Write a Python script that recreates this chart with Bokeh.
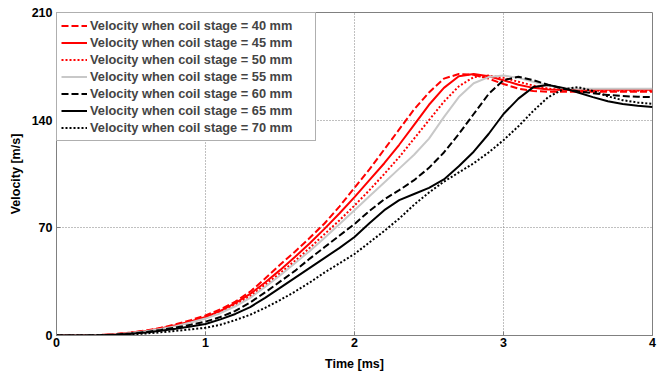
from bokeh.plotting import figure
from bokeh.models import Range1d, FixedTicker, Legend, LegendItem
from bokeh.embed import file_html
from bokeh.resources import INLINE

t_ms = [0.0, 0.1, 0.2, 0.3, 0.4, 0.5, 0.6, 0.7, 0.8, 0.9, 1.0,
        1.1, 1.2, 1.3, 1.4, 1.5, 1.6, 1.7, 1.8, 1.9, 2.0,
        2.1, 2.2, 2.3, 2.4, 2.5, 2.6, 2.7, 2.8, 2.9, 3.0,
        3.1, 3.2, 3.3, 3.4, 3.5, 3.6, 3.7, 3.8, 3.9, 4.0]

v40 = [0, 0, 0.1, 0.4, 1, 2, 3.3, 5, 7.3, 10, 13,
       17, 22, 28.5, 37, 46, 54.5, 63.5, 73, 84, 96,
       108, 121, 134, 147, 158, 167, 170, 169.5, 167, 163.5,
       160.5, 159, 158.5, 158.5, 158.5, 158.5, 158.5, 158.5, 158.5, 158.5]
v45 = [0, 0, 0.1, 0.3, 0.9, 1.8, 3, 4.6, 6.7, 9.2, 12,
       16, 21, 27, 34.5, 42.5, 51, 60, 69.5, 79.5, 90,
       101, 112, 124, 137, 150, 161, 168.5, 170, 168.5, 166,
       163, 161, 160, 159.7, 159.7, 159.7, 159.7, 159.7, 159.7, 159.7]
v50 = [0, 0, 0.1, 0.3, 0.8, 1.7, 2.9, 4.4, 6.4, 8.8, 11.5,
       15, 20, 25.5, 33, 40.5, 48.5, 57, 66, 75, 84.5,
       94.5, 105, 116, 128, 140, 152, 162, 168, 169, 167.5,
       165, 162.5, 160.5, 159.5, 159.2, 159.2, 159.2, 159.2, 159.2, 159.2]
v55 = [0, 0, 0.1, 0.3, 0.8, 1.6, 2.8, 4.2, 6.1, 8.4, 11,
       14.5, 19, 24.5, 31.5, 39, 47, 55, 63.5, 72.5, 81.5,
       90.5, 99.5, 108.5, 117.5, 128, 142, 155, 164, 168, 169,
       167.5, 165, 162.5, 161, 160.5, 160.5, 160.5, 160.5, 160.5, 160.5]
v60 = [0, 0, 0, 0.2, 0.6, 1.3, 2.3, 3.6, 5.2, 7, 9,
       12, 16, 21.5, 28, 35, 42, 50, 57.5, 65, 72.5,
       81, 88.5, 94.5, 101, 109, 119, 131, 144, 157, 166,
       168.2, 166, 163, 160.5, 158.8, 157.5, 156.4, 155.7, 155.2, 155]
v65 = [0, 0, 0, 0.1, 0.5, 1.1, 2, 3.1, 4.4, 5.9, 7.5,
       10.5, 14, 18.5, 24.5, 31, 37.5, 44, 50.5, 57, 64,
       73, 81.5, 88, 92, 96, 101.5, 110, 119.5, 131, 144,
       154, 161.5, 162.8, 161, 158, 155, 152.3, 150.5, 149.3, 148.5]
v70 = [0, 0, 0, 0.1, 0.3, 0.7, 1.3, 2.1, 3, 4, 5,
       7, 10, 13.5, 18, 23, 28.5, 34.5, 41, 47, 53,
       60.5, 68, 76, 85, 93, 100, 106, 112, 119, 127,
       136, 146, 155, 160, 161.5, 159, 155.5, 153, 151.5, 150.6]

labels = ["Velocity when coil stage = 40 mm", "Velocity when coil stage = 45 mm",
          "Velocity when coil stage = 50 mm", "Velocity when coil stage = 55 mm",
          "Velocity when coil stage = 60 mm", "Velocity when coil stage = 65 mm",
          "Velocity when coil stage = 70 mm"]
x_ticks = [0, 1, 2, 3, 4]
y_ticks = [0, 70, 140, 210]

series = [v40, v45, v50, v55, v60, v65, v70]
colors = ["#ff0000", "#ff0000", "#ff0000", "#c8c8c8", "#000000", "#000000", "#000000"]
dashes = ["7 3", "solid", "2 2", "solid", "7 3", "solid", "2 2"]

FONT = "Liberation Sans"

p = figure(width=664, height=374, output_backend="svg", toolbar_location=None,
           x_range=Range1d(0, 4), y_range=Range1d(0, 210),
           min_border_left=56, min_border_right=12, min_border_top=12, min_border_bottom=39)

p.outline_line_color = "#808080"
p.outline_line_width = 1

for ax in (p.xaxis[0], p.yaxis[0]):
    ax.axis_line_color = "#808080"
    ax.major_tick_line_color = "#808080"
    ax.major_tick_in = 4
    ax.major_tick_out = 0
    ax.minor_tick_line_color = None
    ax.major_label_text_font = FONT
    ax.major_label_text_font_style = "bold"
    ax.major_label_text_font_size = "12.5px"
    ax.major_label_text_color = "#000000"
    ax.axis_label_text_font = FONT
    ax.axis_label_text_font_style = "bold"
    ax.axis_label_text_font_size = "12.5px"
    ax.axis_label_text_color = "#000000"

p.xaxis.ticker = FixedTicker(ticks=x_ticks)
p.yaxis.ticker = FixedTicker(ticks=y_ticks)
p.xaxis.axis_label = "Time [ms]"
p.yaxis.axis_label = "Velocity [m/s]"
p.xaxis.major_label_standoff = 2
p.xaxis.axis_label_standoff = 7
p.yaxis.major_label_standoff = 4
p.yaxis.axis_label_standoff = 6

p.grid.grid_line_color = "#808080"
p.grid.grid_line_dash = "1 2"
p.grid.grid_line_width = 1

items = []
for vals, col, dash, lab in zip(series, colors, dashes, labels):
    r = p.line(t_ms, vals, line_color=col, line_width=2, line_dash=dash)
    items.append(LegendItem(label=lab, renderers=[r]))

legend = Legend(items=items, location="top_left")
legend.margin = 0
legend.padding = 4
legend.spacing = 0
legend.label_height = 17
legend.glyph_height = 17
legend.glyph_width = 26
legend.label_standoff = 3
legend.label_width = 221
legend.label_text_font = FONT
legend.label_text_font_style = "bold"
legend.label_text_font_size = "12.8px"
legend.border_line_color = "#606060"
legend.border_line_width = 1
legend.background_fill_alpha = 1.0
p.add_layout(legend, "center")

open("out.html", "w").write(file_html(p, INLINE))
